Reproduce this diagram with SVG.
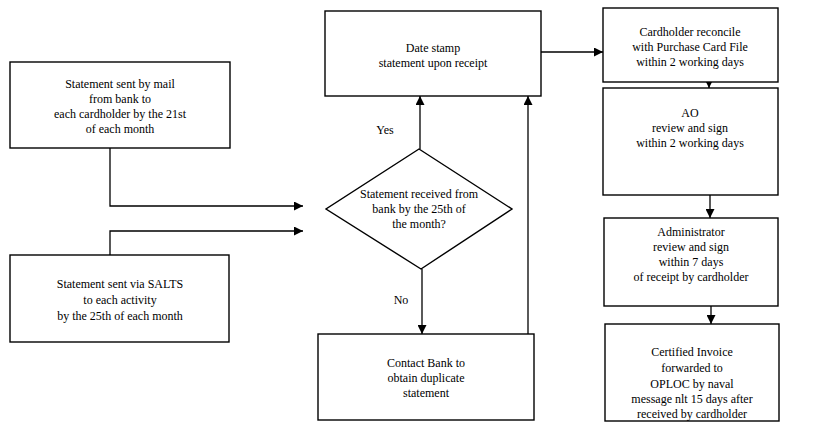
<svg xmlns="http://www.w3.org/2000/svg" width="817" height="423" viewBox="0 0 817 423">
<defs>
<marker id="ah" viewBox="0 0 10 10" refX="10" refY="5" markerWidth="9" markerHeight="9" markerUnits="userSpaceOnUse" orient="auto">
<path d="M0,0 L10,5 L0,10 z" fill="#000"/>
</marker>
</defs>
<style>
.box{fill:#fff;stroke:#000;stroke-width:1.4}
.t{font-family:"Liberation Serif","Times New Roman",serif;font-size:12px;fill:#000;text-anchor:middle}
.c{fill:none;stroke:#000;stroke-width:1.3;marker-end:url(#ah)}
.l{fill:none;stroke:#000;stroke-width:1.3}
</style>
<rect width="817" height="423" fill="#fff"/>
<g id="connectors">
<path class="c" d="M110,148 V206 H303"/>
<path class="c" d="M110,255 V231 H303"/>
<path class="c" d="M420,149 V96"/>
<path class="c" d="M422,269 V334"/>
<path class="c" d="M528,334 V96"/>
<path class="c" d="M541,52 H603"/>
<path class="c" d="M709,82 V88"/>
<path class="c" d="M710,195 V218"/>
<path class="c" d="M711,306 V324"/>
</g>
<g id="n1">
<rect class="box" x="10" y="62" width="220" height="86"/>
<text class="t" x="120" y="88">Statement sent by mail</text>
<text class="t" x="120" y="103">from bank to</text>
<text class="t" x="120" y="118">each cardholder by the 21st</text>
<text class="t" x="120" y="133">of each month</text>
</g>
<g id="n2">
<rect class="box" x="10" y="255" width="219" height="87"/>
<text class="t" x="120" y="288">Statement sent via SALTS</text>
<text class="t" x="120" y="304">to each activity</text>
<text class="t" x="120" y="320">by the 25th of each month</text>
</g>
<g id="decision">
<polygon class="box" points="419,149 512,209 421,269 326,209"/>
<text class="t" x="419" y="198">Statement received from</text>
<text class="t" x="419" y="213">bank by the 25th of</text>
<text class="t" x="419" y="228">the month?</text>
</g>
<g id="labels">
<text class="t" x="385" y="134">Yes</text>
<text class="t" x="401" y="304">No</text>
</g>
<g id="datestamp">
<rect class="box" x="325" y="11" width="216" height="85"/>
<text class="t" x="433" y="52">Date stamp</text>
<text class="t" x="433" y="67">statement upon receipt</text>
</g>
<g id="contact">
<rect class="box" x="318" y="334" width="216" height="86"/>
<text class="t" x="426" y="367">Contact Bank to</text>
<text class="t" x="426" y="382">obtain duplicate</text>
<text class="t" x="426" y="397">statement</text>
</g>
<g id="cardholder">
<rect class="box" x="603" y="8" width="175" height="74"/>
<text class="t" x="690" y="36">Cardholder reconcile</text>
<text class="t" x="690" y="51">with Purchase Card File</text>
<text class="t" x="690" y="66">within 2 working days</text>
</g>
<g id="ao">
<rect class="box" x="603" y="88" width="175" height="107"/>
<text class="t" x="690" y="117">AO</text>
<text class="t" x="690" y="132">review and sign</text>
<text class="t" x="690" y="147">within 2 working days</text>
</g>
<g id="admin">
<rect class="box" x="604" y="218" width="174" height="88"/>
<text class="t" x="691" y="236">Administrator</text>
<text class="t" x="691" y="251">review and sign</text>
<text class="t" x="691" y="266">within 7 days</text>
<text class="t" x="691" y="281">of receipt by cardholder</text>
</g>
<g id="invoice">
<rect class="box" x="605" y="324" width="174" height="97"/>
<text class="t" x="692" y="356">Certified Invoice</text>
<text class="t" x="692" y="372">forwarded  to</text>
<text class="t" x="692" y="388">OPLOC by naval</text>
<text class="t" x="692" y="403">message nlt 15 days after</text>
<text class="t" x="692" y="418">received by cardholder</text>
</g>
</svg>
